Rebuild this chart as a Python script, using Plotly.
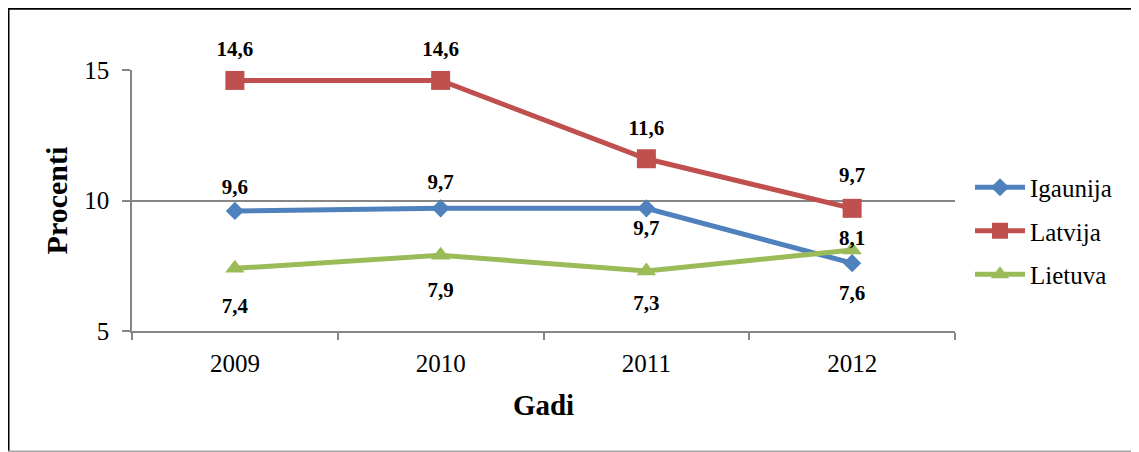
import plotly.graph_objects as go

years = ["2009", "2010", "2011", "2012"]
igaunija = [9.6, 9.7, 9.7, 7.6]
latvija = [14.6, 14.6, 11.6, 9.7]
lietuva = [7.4, 7.9, 7.3, 8.1]

# label distances from the point in pixels (positive = above the point)
igaunija_shift = [24, 26, -20, -30]
latvija_shift = [32, 32, 31, 33]
lietuva_shift = [-38, -35, -32, 12]

LABEL_FS = 21

def fmt(v):
    return f"{v:.1f}".replace(".", ",")

def spacer_size(s):
    # invisible marker size that makes plotly place the label s px from the point
    if s > 0:
        r = s - 0.59 * LABEL_FS
    else:
        r = -s - 0.41 * LABEL_FS
    return max(0.0, 1.6 * (r - 1))

series = [
    ("Igaunija", igaunija, igaunija_shift, "#4F81BD", "diamond", 14),
    ("Latvija", latvija, latvija_shift, "#C0504D", "square", 19),
    ("Lietuva", lietuva, lietuva_shift, "#9BBB59", "triangle-up", 17),
]

# The page adds an 8px offset; picture coords = figure coords + 8
OFF = 8
W, H = 1139 - OFF, 452 - OFF
L, R, T, B = 132 - OFF, 955 - OFF, 70 - OFF, 331 - OFF
pw, ph = R - L, B - T

def px(x):
    return (x - L) / pw

def py(y):
    return (B - y) / ph

fig = go.Figure()
for name, vals, shifts, color, sym, size in series:
    fig.add_trace(go.Scatter(
        x=years, y=vals, name=name, mode="lines+markers",
        line=dict(color=color, width=5),
        marker=dict(color=color, symbol=sym, size=size),
        legendgroup=name, cliponaxis=False,
    ))

for name, vals, shifts, color, sym, size in series:
    fig.add_trace(go.Scatter(
        x=years, y=vals, mode="markers+text", showlegend=False, hoverinfo="skip",
        marker=dict(size=[spacer_size(s) for s in shifts], opacity=0, color=color),
        text=[fmt(v) for v in vals],
        textposition=["top center" if s > 0 else "bottom center" for s in shifts],
        textfont=dict(family="Liberation Serif", size=LABEL_FS, color="black", weight="bold"),
        cliponaxis=False,
    ))

shapes = [
    dict(type="line", xref="paper", yref="paper", x0=px(0.5), x1=px(W), y0=py(0.8), y1=py(0.8),
         line=dict(color="black", width=2)),
    dict(type="line", xref="paper", yref="paper", x0=px(0.5), x1=px(0.5), y0=py(0), y1=py(H),
         line=dict(color="black", width=2)),
    dict(type="line", xref="paper", yref="paper", x0=px(0), x1=px(W), y0=py(H - 0.8), y1=py(H - 0.8),
         line=dict(color="#A6A6A6", width=1.5)),
]

fig.update_layout(
    width=W, height=H,
    margin=dict(l=L, r=W - R, t=T, b=H - B),
    paper_bgcolor="white", plot_bgcolor="white",
    font=dict(family="Liberation Serif", color="black"),
    showlegend=True,
    legend=dict(x=px(970 - OFF), y=py(231 - OFF), xanchor="left", yanchor="middle",
                font=dict(size=25, family="Liberation Serif"),
                tracegroupgap=8, bgcolor="rgba(0,0,0,0)", itemwidth=50),
    xaxis=dict(type="category", range=[-0.5, 3.5], tickson="boundaries",
               ticks="outside", ticklen=7, tickcolor="#868686", tickwidth=1.5,
               showline=True, linecolor="#868686", linewidth=1.5, showgrid=False,
               ticklabelstandoff=9,
               tickfont=dict(size=25, family="Liberation Serif"),
               title=dict(text="<b>Gadi</b>", font=dict(size=29, family="Liberation Serif"), standoff=19)),
    yaxis=dict(range=[5, 15], tickvals=[5, 10, 15], ticks="outside", ticklen=8,
               tickcolor="#868686", tickwidth=1.5, showline=True, linecolor="#868686",
               linewidth=1.5, showgrid=True, gridcolor="#868686", gridwidth=1.5,
               zeroline=False, ticklabelstandoff=8,
               tickfont=dict(size=25, family="Liberation Serif"),
               title=dict(text="<b>Procenti</b>", font=dict(size=30, family="Liberation Serif"), standoff=8)),
    shapes=shapes,
)

fig.write_html("out.html")
